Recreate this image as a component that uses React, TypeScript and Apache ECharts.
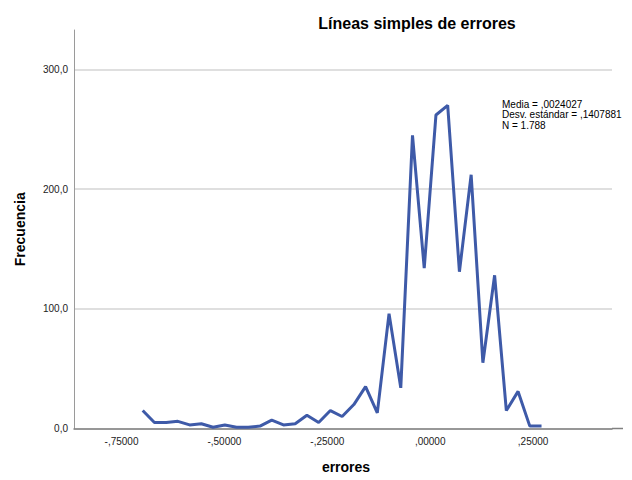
import React, { useEffect, useRef } from "react";
import * as echarts from "echarts";

const binCenters = [
  -0.6985, -0.67, -0.6415, -0.613, -0.5845, -0.556, -0.5275, -0.499, -0.4705,
  -0.442, -0.4135, -0.385, -0.3565, -0.328, -0.2995, -0.271, -0.2425, -0.214,
  -0.1855, -0.157, -0.1285, -0.1, -0.0715, -0.043, -0.0145, 0.014, 0.0425,
  0.071, 0.0995, 0.128, 0.1565, 0.185, 0.2135, 0.242, 0.2705,
];
const frequencies = [
  15, 5, 5, 6, 3, 4, 1, 3, 1, 1, 2, 7, 3, 4, 11, 5, 15, 10, 20, 35, 13, 96, 34,
  245, 134, 262, 270, 131, 212, 55, 128, 15, 31, 2, 2,
];
const xTicks = [-0.75, -0.5, -0.25, 0, 0.25];
const yTicks = [0, 100, 200, 300];
const statsLines = ["Media = ,0024027", "Desv. estándar = ,1407881", "N = 1.788"];

const FONT = "Liberation Sans, Arial, sans-serif";

function fmtX(v: number): string {
  const s = Math.abs(v).toFixed(5).replace(/^0/, "").replace(".", ",");
  return (v < -1e-9 ? "-" : "") + s;
}
function fmtY(v: number): string {
  return v.toFixed(1).replace(".", ",");
}

export default function App() {
  const ref = useRef<HTMLDivElement>(null);
  useEffect(() => {
    document.body.style.margin = "0";
    if (!ref.current) return;
    const chart = echarts.init(ref.current, undefined, { renderer: "svg" });
    chart.setOption({
      animation: false,
      backgroundColor: "#ffffff",
      title: {
        text: "Líneas simples de errores",
        left: 412,
        top: 10,
        textAlign: "center",
        textStyle: { fontFamily: FONT, fontSize: 16, fontWeight: "bold", color: "#000" },
      },
      grid: { left: 74, right: 20, top: 30, bottom: 51.5 },
      xAxis: {
        type: "value",
        min: -0.8654,
        max: 0.4417,
        name: "errores",
        nameLocation: "middle",
        nameGap: 31,
        nameTextStyle: { fontFamily: FONT, fontSize: 14, fontWeight: "bold", color: "#000", padding: [0, 0, 0, 6] },
        axisLine: { show: true, onZero: false, lineStyle: { color: "#808080", width: 1.5 } },
        axisTick: { show: false, customValues: xTicks },
        axisLabel: {
          customValues: xTicks,
          formatter: (v: number) => fmtX(v),
          fontFamily: FONT,
          fontSize: 10,
          color: "#222",
          margin: 8,
        },
        splitLine: { show: false },
      },
      yAxis: {
        type: "value",
        min: 0,
        max: 333,
        name: "Frecuencia",
        nameLocation: "middle",
        nameGap: 47,
        nameTextStyle: { fontFamily: FONT, fontSize: 14, fontWeight: "bold", color: "#000" },
        axisLine: { show: true, onZero: false, lineStyle: { color: "#9a9a9a", width: 1 } },
        axisTick: { show: false, customValues: yTicks },
        axisLabel: {
          customValues: yTicks,
          formatter: (v: number) => fmtY(v),
          fontFamily: FONT,
          fontSize: 10,
          color: "#222",
          margin: 6,
        },
        splitLine: { show: true, lineStyle: { color: "#d4d4d4", width: 1.5 } },
      },
      graphic: [
        {
          type: "text",
          left: 502,
          top: 99,
          style: {
            text: statsLines.join("\n"),
            fontFamily: FONT,
            fontSize: 10,
            lineHeight: 10.5,
            fill: "#000",
          },
        },
        {
          type: "line",
          shape: { x1: 612, y1: 428.5, x2: 623, y2: 428.5 },
          style: { stroke: "#808080", lineWidth: 1.5 },
        },
      ],
      series: [
        {
          type: "line",
          data: binCenters.map((x, i) => [x, frequencies[i]]),
          showSymbol: false,
          symbol: "none",
          lineStyle: { color: "#3e5aa8", width: 3 },
          z: 5,
        },
      ],
    });
    return () => chart.dispose();
  }, []);
  return <div ref={ref} style={{ width: 632, height: 480 }} />;
}
